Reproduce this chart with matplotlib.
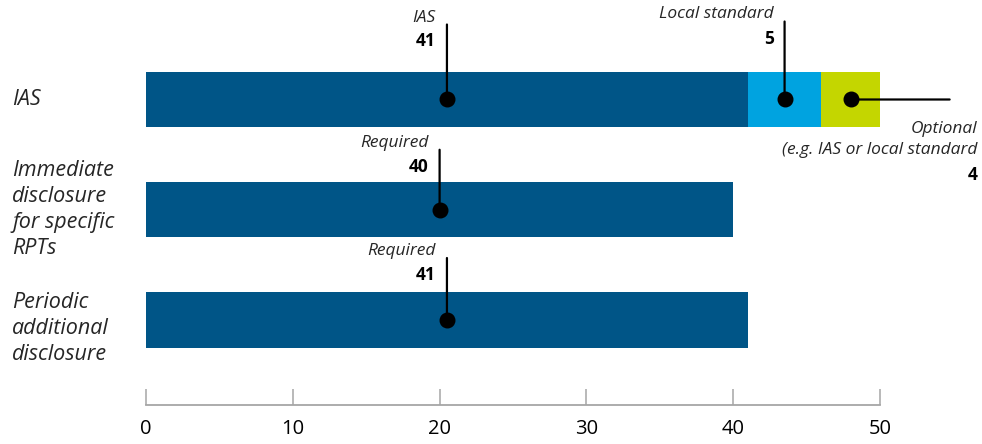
import matplotlib
matplotlib.use("Agg")
import matplotlib.pyplot as plt

# data
categories = ["IAS", "Immediate\ndisclosure\nfor specific\nRPTs", "Periodic\nadditional\ndisclosure"]
segments = [
    # (row, label, value)
    (0, "IAS", 41),
    (0, "Local standard", 5),
    (0, "Optional\n(e.g. IAS or local standard", 4),
    (1, "Required", 40),
    (2, "Required", 41),
]
xticks = [0, 10, 20, 30, 40, 50]

seg_colors = ["#005587", "#00A3E0", "#C4D600", "#005587", "#005587"]
# leader style per segment: direction, length in px
leaders = [("up", 75), ("up", 78), ("right", 99), ("up", 60), ("up", 62)]

PX = 0.72  # points per pixel at dpi 100
plt.rcParams["font.family"] = ["Open Sans", "DejaVu Sans"]

fig = plt.figure(figsize=(9.82, 4.44), dpi=100)
ax = fig.add_axes([146 / 982, 0, (880 - 146) / 982, 1])

row_px = 110.25
top_px = 99.5
ax.set_xlim(0, 50)
ax.set_ylim((444 - top_px) / row_px, -top_px / row_px)

left = {}
for (row, label, val), col, (direction, length) in zip(segments, seg_colors, leaders):
    start = left.get(row, 0)
    ax.barh(row, val, left=start, height=0.5, color=col, edgecolor="none", zorder=2)
    left[row] = start + val
    mx = start + val / 2
    ax.scatter([mx], [row], s=110, color="black", zorder=4, clip_on=False)
    if direction == "up":
        ax.annotate("", xy=(mx, row), xytext=(0, length * PX), textcoords="offset points",
                    arrowprops=dict(arrowstyle="-", lw=1.6, color="black", shrinkA=0, shrinkB=0),
                    annotation_clip=False, zorder=3)
        ax.annotate(label, xy=(mx, row), xytext=(-11 * PX, (length + 7) * PX),
                    textcoords="offset points", ha="right", va="center",
                    fontsize=12.5, style="italic", color="#262626", annotation_clip=False)
        ax.annotate(str(val), xy=(mx, row), xytext=(-11 * PX, (length - 17) * PX),
                    textcoords="offset points", ha="right", va="center",
                    fontsize=12.5, fontweight="bold", color="black", annotation_clip=False)
    else:
        ax.annotate("", xy=(mx, row), xytext=(length * PX, 0), textcoords="offset points",
                    arrowprops=dict(arrowstyle="-", lw=1.6, color="black", shrinkA=0, shrinkB=0),
                    annotation_clip=False, zorder=3)
        ax.annotate(label, xy=(mx, row), xytext=(127 * PX, -40 * PX),
                    textcoords="offset points", ha="right", va="center", linespacing=1.45,
                    fontsize=12.5, style="italic", color="#262626", annotation_clip=False)
        ax.annotate(str(val), xy=(mx, row), xytext=(127 * PX, -76 * PX),
                    textcoords="offset points", ha="right", va="center",
                    fontsize=12.5, fontweight="bold", color="black", annotation_clip=False)

# category labels at left
trans = matplotlib.transforms.blended_transform_factory(fig.transFigure, ax.transData)
for i, cat in enumerate(categories):
    ax.text(12 / 982, i + (0.08 if i == 2 else 0), cat, transform=trans, ha="left", va="center",
            fontsize=15.5, style="italic", color="#262626", linespacing=1.32)

# axis
for s in ["top", "left", "right"]:
    ax.spines[s].set_visible(False)
ax.spines["bottom"].set_position(("data", (405 - top_px) / row_px))
ax.spines["bottom"].set_color("#A6A6A6")
ax.spines["bottom"].set_linewidth(1.3)
ax.set_yticks([])
ax.set_xticks(xticks)
ax.tick_params(axis="x", direction="in", length=16 * PX, width=1.1, color="#A6A6A6",
               pad=10, labelsize=14.5, labelcolor="black")
ax.patch.set_alpha(0)

fig.savefig("out.png", dpi=100)
